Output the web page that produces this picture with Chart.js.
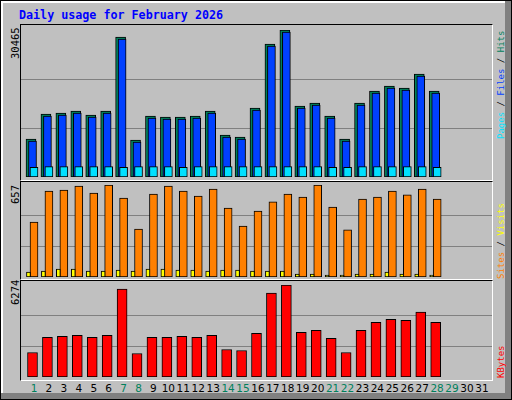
<!DOCTYPE html>
<html><head><meta charset="utf-8">
<script src="https://cdn.jsdelivr.net/npm/chart.js@4"></script>
<style>
body{margin:0;background:#fff;}
#wrap{position:relative;width:510px;height:398px;background:#c0c0c0;border:1px solid #000;overflow:hidden;}
.frame{position:absolute;border-top:1px solid #000;border-left:1px solid #000;border-right:1px solid #fff;border-bottom:1px solid #fff;box-sizing:border-box;}
canvas{position:absolute;}
.t{position:absolute;font-family:"DejaVu Sans Mono",monospace;white-space:pre;}
.rot{transform-origin:0 0;transform:rotate(-90deg);}
</style></head><body>
<div id="wrap">
<div style="position:absolute;right:0;top:0;width:6px;height:398px;background:#808080"></div>
<div style="position:absolute;left:0;bottom:0;width:510px;height:6px;background:#808080"></div>
<div style="position:absolute;left:0;top:0;width:504px;height:392px;border-top:2px solid #fff;border-left:2px solid #fff;box-sizing:border-box"></div>
<div class="t" style="left:18px;top:7px;font-size:11.7px;font-weight:bold;color:#0000ff">Daily usage for February 2026</div>
<div class="frame" style="left:19px;top:23px;width:473px;height:157px"></div>
<div class="frame" style="left:19px;top:180px;width:473px;height:99px"></div>
<div class="frame" style="left:19px;top:279px;width:473px;height:101px"></div>
<canvas id="c1" style="left:20px;top:29px;width:471px;height:147px"></canvas>
<canvas id="c2" style="left:20px;top:184px;width:471px;height:92px"></canvas>
<canvas id="c3" style="left:20px;top:284px;width:471px;height:92px"></canvas>
<div class="t rot" style="left:8px;top:58px;font-size:10.5px;color:#000">30465</div>
<div class="t rot" style="left:8px;top:203px;font-size:10.5px;color:#000">657</div>
<div class="t rot" style="left:8px;top:304px;font-size:10.5px;color:#000">6274</div>
<div class="t rot" style="left:495px;top:138px;font-size:9px"><span style="color:#00e0ff">Pages</span><span style="color:#000"> / </span><span style="color:#0040ff">Files</span><span style="color:#000"> / </span><span style="color:#00805c">Hits</span></div>
<div class="t rot" style="left:495px;top:278px;font-size:9px"><span style="color:#ff8000">Sites</span><span style="color:#000"> / </span><span style="color:#ffff00">Visits</span></div>
<div class="t rot" style="left:495px;top:377px;font-size:9px;color:#ff0000">KBytes</div>
<div id="days"></div>
</div>
<script>
const days=[1,2,3,4,5,6,7,8,9,10,11,12,13,14,15,16,17,18,19,20,21,22,23,24,25,26,27,28,29,30,31];
const weekend=[1,7,8,14,15,21,22,28,29];
const hits=[7875,13055,13260,13675,12850,13675,29010,7665,12640,12430,12430,12640,13675,8700,8290,14300,27560,30465,14710,15330,12640,7875,15330,17820,18855,18440,21340,17820];
const files=[7460,12640,12850,13260,12430,13260,28600,7250,12230,12020,12020,12230,13260,8290,7875,13880,27150,30050,14300,14920,12230,7460,14920,17400,18440,18030,20930,17400];
const pages=[2000,2150,2150,2150,2150,2150,2000,2150,2150,2150,2000,2150,2150,2150,2150,2150,2150,2150,2150,2150,2000,2000,2150,2150,2150,2150,2150,2000];
const sites=[393,614,621,650,600,657,564,343,593,650,614,578,628,493,364,471,536,593,571,657,500,336,557,571,614,586,628,557];
const visits=[36,43,57,57,43,43,50,43,57,57,50,50,43,50,50,43,43,43,21,21,14,14,21,21,36,21,21,14];
const kbytes=[1672,2702,2771,2840,2702,2840,6000,1603,2702,2702,2771,2702,2840,1878,1809,2977,5725,6274,3046,3183,2634,1672,3183,3733,3939,3870,4420,3733];
const maxTop=30465,maxMid=657,maxBot=6274;

function ds(vals,off,color,w,order){
  return {data:vals.map((v,i)=>({x:days[i]+off,y:v})),backgroundColor:color,borderColor:'#000',borderWidth:1,barThickness:w,grouped:false,borderSkipped:false,order:order};
}
function mk(id,sets,max){
  new Chart(document.getElementById(id),{type:'bar',data:{datasets:sets},
    options:{responsive:false,animation:false,devicePixelRatio:1,events:[],
      layout:{padding:0},
      plugins:{legend:{display:false},tooltip:{enabled:false}},
      scales:{x:{type:'linear',min:0.13,max:31.67,offset:false,display:false},
        y:{min:0,max:max,afterBuildTicks:s=>{s.ticks=[{value:max/3},{value:2*max/3}];},
           ticks:{display:false},border:{display:false},grid:{color:'#808080',drawTicks:false,lineWidth:1}}}}});
}
function size(id,w,h){const c=document.getElementById(id);c.width=w;c.height=h;}
size('c1',471,147);size('c2',471,92);size('c3',471,92);
mk('c1',[ds(hits,-0.2,'#00805c',10,3),ds(files,-0.1,'#0040ff',8,2),ds(pages,0,'#00e0ff',8,1)],maxTop);
mk('c2',[ds(visits,-0.37,'#ffff00',4,1),ds(sites,0,'#ff8000',8,2)],maxMid);
mk('c3',[ds(kbytes,-0.1,'#ff0000',10,1)],maxBot);
const d=document.getElementById('days');
days.forEach((n,i)=>{const e=document.createElement('div');e.className='t';
  e.style.cssText='left:'+(33+14.93*i-10)+'px;width:20px;text-align:center;top:381px;font-family:"DejaVu Sans",sans-serif;font-size:10.5px;color:'+(weekend.includes(n)?'#00805c':'#000');
  e.textContent=n;d.appendChild(e);});
</script>
</body></html>
